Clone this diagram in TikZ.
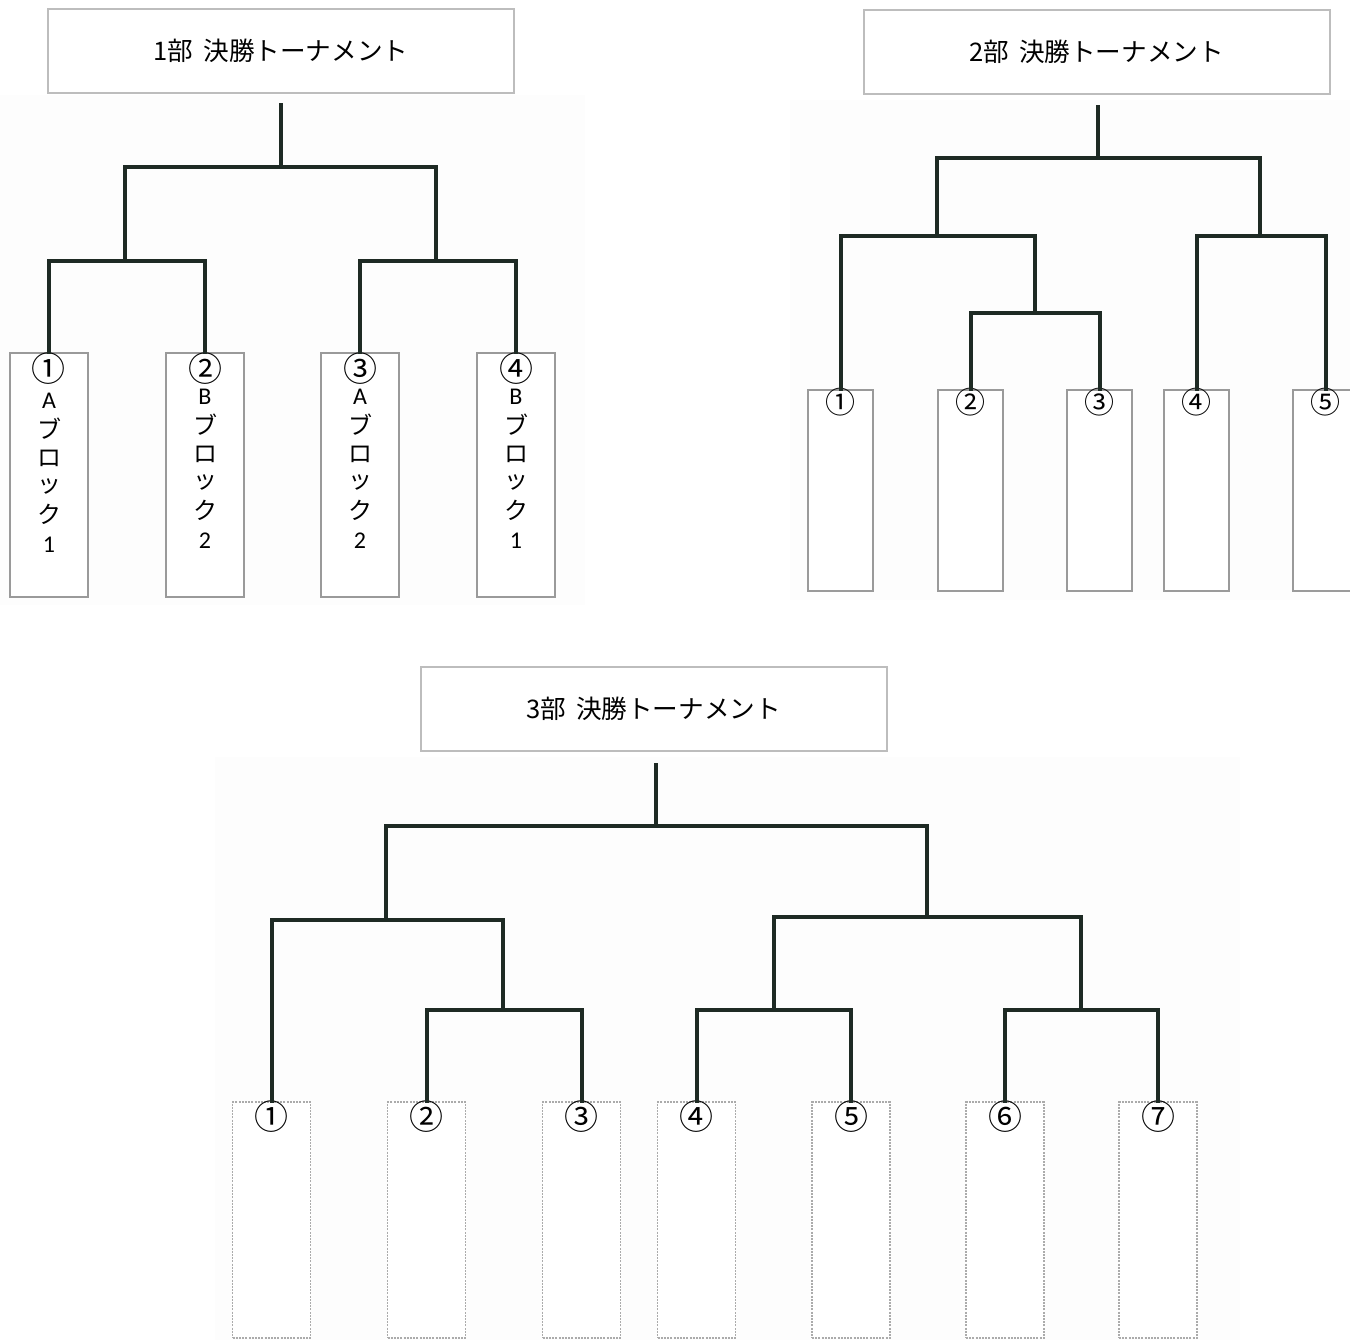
\documentclass[tikz,border=0pt]{standalone}
\usepackage{fontspec}
\setmainfont{Noto Sans CJK JP}
\newfontfamily\lat{Carlito}
\definecolor{brc}{HTML}{1E2A24}
\definecolor{tbc}{HTML}{BDBDBD}
\definecolor{ebc}{HTML}{9A9A9A}
\definecolor{dbc}{HTML}{ABABAB}
\definecolor{bgc}{HTML}{FDFDFD}
\tikzset{
  br/.style={draw=brc, line width=2pt, line cap=rect, line join=miter},
  titlebox/.style={draw=tbc, line width=1pt, fill=white, inner sep=0pt,
    minimum width=233pt, minimum height=42pt, font=\fontsize{12.8}{14}\selectfont},
  ebox/.style={draw=ebc, line width=0.8pt, inner sep=0pt, fill=white},
  ebox1/.style={ebox, minimum width=39pt, minimum height=122pt},
  ebox2/.style={ebox, minimum width=32.5pt, minimum height=100.5pt},
  ebox3/.style={draw=dbc, line width=0.6pt, dash pattern=on 1pt off 0.6pt,
    inner sep=0pt, fill=white, minimum width=39pt, minimum height=118pt},
  circA/.style={inner sep=0pt, font=\fontsize{17}{18}\selectfont},
  circB/.style={inner sep=0pt, font=\fontsize{15}{16}\selectfont},
  vtxt/.style={inner sep=0pt, font=\fontsize{12}{13}\selectfont},
  vlat/.style={inner sep=0pt, font=\lat\fontsize{12}{13}\selectfont},
}
\begin{document}
\begin{tikzpicture}[x=0.5pt,y=-0.5pt]
\useasboundingbox (0,0) rectangle (1350,1340);
\fill[white] (0,0) rectangle (1350,1340);
\fill[bgc] (0,95) rectangle (585,605);
\fill[bgc] (790,100) rectangle (1350,600);
\fill[bgc] (215,757) rectangle (1240,1340);

% ---------------- Part 1 ----------------
\node[titlebox] (t1) at (281,51) {1部\hspace{0.4em}決勝トーナメント};
\node[ebox1] (a1) at (49,475) {};
\node[ebox1] (a2) at (205,475) {};
\node[ebox1] (a3) at (360,475) {};
\node[ebox1] (a4) at (516,475) {};
\node[circA] (a1n) at (49,369) {①};
\node[circA] (a2n) at (205,369) {②};
\node[circA] (a3n) at (360,369) {③};
\node[circA] (a4n) at (516,369) {④};
\foreach \x/\L/\d/\o [count=\i] in {49/A/1/4, 205/B/2/0, 360/A/2/0, 516/B/1/0}{
  \node[vlat] (a\i l) at (\x,397+\o) {\L};
  \node[vtxt] (a\i b) at (\x,425+\o) {ブ};
  \node[vtxt] (a\i r) at (\x,454+\o) {ロ};
  \node[vtxt] (a\i t) at (\x,482+\o) {ッ};
  \node[vtxt] (a\i k) at (\x,510+\o) {ク};
  \node[vlat] (a\i d) at (\x,541+\o) {\d};
}
\coordinate (p1s) at (281,105);
\coordinate (p1top) at (281,167);
\coordinate (p1L) at (125,261);
\coordinate (p1R) at (436,261);
\draw[br] (a1.north) |- (p1L) -| (a2.north);
\draw[br] (a3.north) |- (p1R) -| (a4.north);
\draw[br] (p1L) |- (p1top) -| (p1R);
\draw[br] (p1top) -- (p1s);

% ---------------- Part 2 ----------------
\node[titlebox] (t2) at (1096.5,52) {2部\hspace{0.4em}決勝トーナメント};
\node[ebox2] (b1) at (840.5,490.5) {};
\node[ebox2] (b2) at (970.5,490.5) {};
\node[ebox2] (b3) at (1099.5,490.5) {};
\node[ebox2] (b4) at (1196.5,490.5) {};
\node[ebox2] (b5) at (1325.5,490.5) {};
\node[circB] (b1n) at (840.5,402) {①};
\node[circB] (b2n) at (970.5,402) {②};
\node[circB] (b3n) at (1099.5,402) {③};
\node[circB] (b4n) at (1196.5,402) {④};
\node[circB] (b5n) at (1325.5,402) {⑤};
\coordinate (p2s) at (1098,107);
\coordinate (p2top) at (1098,158);
\coordinate (p2L) at (937,236);
\coordinate (p2R) at (1260,236);
\coordinate (p2in) at (1035,313);
\draw[br] (b2.north) |- (p2in) -| (b3.north);
\draw[br] (b1.north) |- (p2L) -| (p2in);
\draw[br] (b4.north) |- (p2R) -| (b5.north);
\draw[br] (p2L) |- (p2top) -| (p2R);
\draw[br] (p2top) -- (p2s);

% ---------------- Part 3 ----------------
\node[titlebox] (t3) at (653.5,709) {3部\hspace{0.4em}決勝トーナメント};
\foreach \x [count=\i] in {271.5,426.5,581.5,696.5,851,1005,1158}{
  \node[ebox3] (c\i) at (\x,1220) {};
}
\foreach \x/\n [count=\i] in {271.5/①,426.5/②,581.5/③,696.5/④,851/⑤,1005/⑥,1158/⑦}{
  \node[circA] (c\i n) at (\x,1117) {\n};
}
\coordinate (p3s) at (656,765);
\coordinate (p3top) at (656,826);
\coordinate (p3L) at (386,920);
\coordinate (p3R) at (927,917);
\coordinate (p3a) at (503,1010);
\coordinate (p3b) at (774,1010);
\coordinate (p3c) at (1081,1010);
\draw[br] (c2.north) |- (p3a) -| (c3.north);
\draw[br] (c1.north) |- (p3L) -| (p3a);
\draw[br] (c4.north) |- (p3b) -| (c5.north);
\draw[br] (c6.north) |- (p3c) -| (c7.north);
\draw[br] (p3b) |- (p3R) -| (p3c);
\draw[br] (p3L) |- (p3top) -| (p3R);
\draw[br] (p3top) -- (p3s);
\end{tikzpicture}
\end{document}
